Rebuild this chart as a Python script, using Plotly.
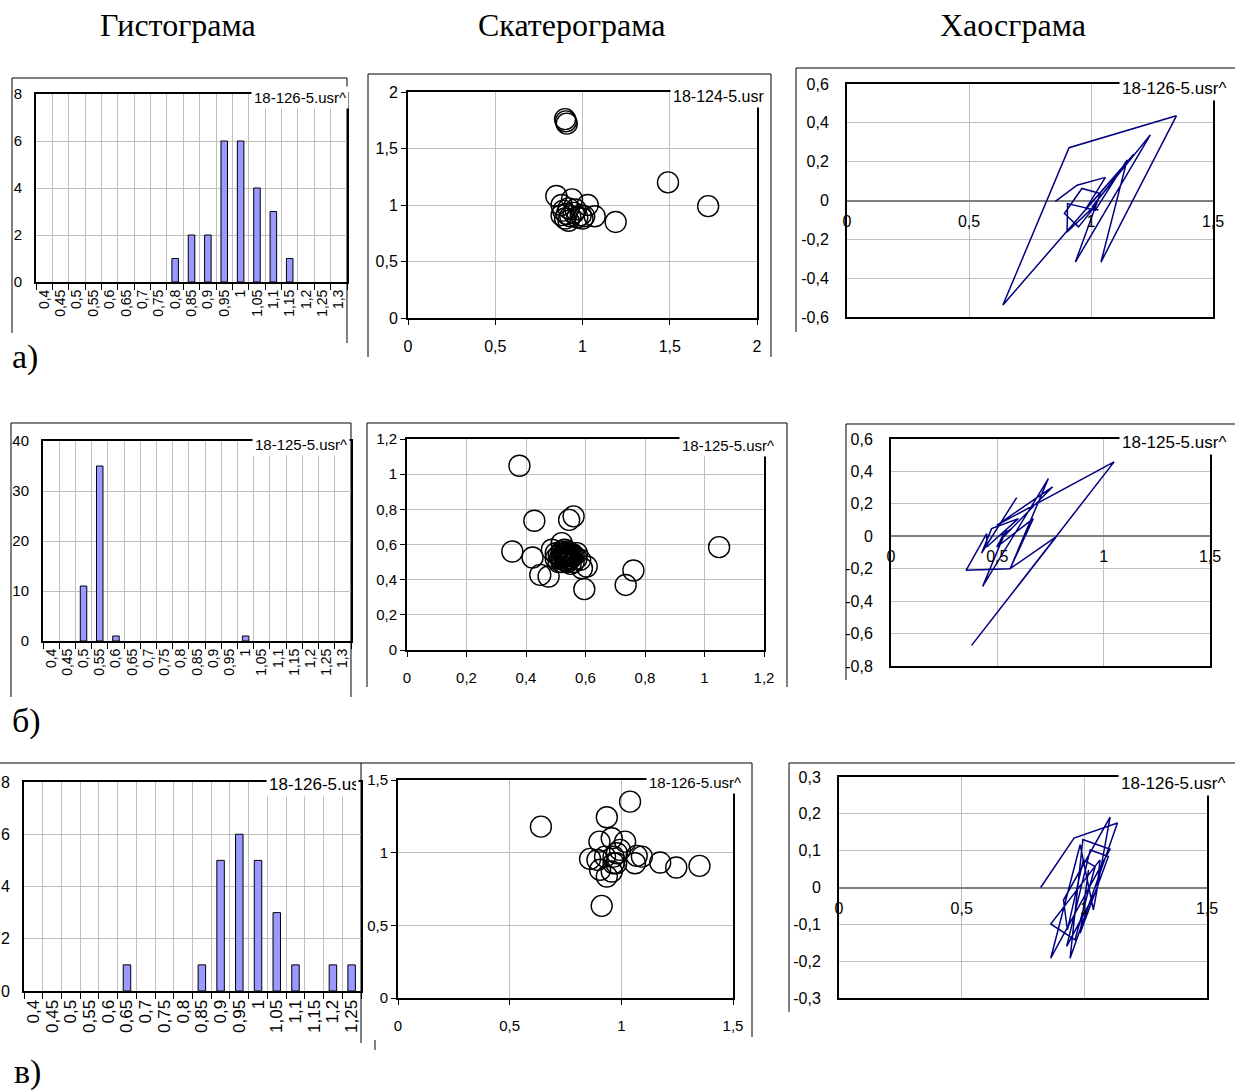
import plotly.graph_objects as go

W, H = 1235, 1090

# ---------------- DATA ----------------
CATS_HIST_AB = ["0,4", "0,45", "0,5", "0,55", "0,6", "0,65", "0,7", "0,75", "0,8", "0,85",
                "0,9", "0,95", "1", "1,05", "1,1", "1,15", "1,2", "1,25", "1,3"]
CATS_HIST_C = ["0,4", "0,45", "0,5", "0,55", "0,6", "0,65", "0,7", "0,75", "0,8", "0,85",
               "0,9", "0,95", "1", "1,05", "1,1", "1,15", "1,2", "1,25"]
HIST_A = [0, 0, 0, 0, 0, 0, 0, 0, 1, 2, 2, 6, 6, 4, 3, 1, 0, 0, 0]
HIST_B = [0, 0, 11, 35, 1, 0, 0, 0, 0, 0, 0, 0, 1, 0, 0, 0, 0, 0, 0]
HIST_C = [0, 0, 0, 0, 0, 1, 0, 0, 0, 1, 5, 6, 5, 3, 1, 0, 1, 1]

SCAT_A_X = [0.90, 0.91, 0.905, 1.49, 1.72, 1.19, 1.07, 0.85, 1.03, 0.94, 0.88, 0.89,
            0.91, 0.90, 0.92, 0.93, 0.95, 0.97, 0.99, 1.01, 0.96, 0.88, 0.92, 1.00]
SCAT_A_Y = [1.76, 1.72, 1.74, 1.20, 0.99, 0.85, 0.90, 1.08, 1.00, 1.05, 1.00, 0.95,
            0.92, 0.88, 0.86, 0.90, 0.93, 0.89, 0.91, 0.90, 0.96, 0.91, 0.97, 0.88]

SCAT_B_X = [0.378, 0.428, 0.545, 0.560, 0.354, 0.422, 0.448, 0.476, 0.596, 0.604, 0.588,
            0.735, 0.761, 1.049, 0.487, 0.520, 0.571, 0.582,
            0.50, 0.51, 0.52, 0.53, 0.54, 0.55, 0.56, 0.52, 0.53, 0.54, 0.55, 0.51, 0.53,
            0.54, 0.52, 0.56, 0.55, 0.53, 0.50, 0.57, 0.54, 0.52, 0.535, 0.545, 0.525,
            0.515, 0.555, 0.545, 0.535]
SCAT_B_Y = [1.048, 0.735, 0.740, 0.760, 0.560, 0.526, 0.427, 0.418, 0.346, 0.475, 0.465,
            0.370, 0.452, 0.585, 0.570, 0.608, 0.551, 0.513,
            0.52, 0.50, 0.53, 0.51, 0.54, 0.52, 0.50, 0.56, 0.55, 0.50, 0.55, 0.54, 0.53,
            0.52, 0.50, 0.54, 0.49, 0.57, 0.55, 0.52, 0.56, 0.52, 0.535, 0.515, 0.545,
            0.525, 0.535, 0.545, 0.505]

SCAT_C_X = [0.640, 1.039, 0.935, 0.912, 1.174, 1.246, 1.350, 1.017, 0.957, 0.902, 0.860,
            0.893, 0.905, 0.935, 0.957, 0.977, 0.980, 0.994, 0.965, 1.069, 1.061, 1.092,
            0.927, 0.965]
SCAT_C_Y = [1.179, 1.351, 1.244, 0.634, 0.932, 0.898, 0.909, 1.076, 1.099, 1.076, 0.957,
            0.950, 0.882, 0.836, 0.870, 0.927, 0.996, 1.019, 0.973, 0.978, 0.927, 0.973,
            0.973, 0.927]

CHAOS_A_X = [0.854, 0.943, 1.059, 0.977, 1.175, 1.004, 1.243, 0.936, 1.038, 0.963, 0.891,
             0.949, 1.025, 0.902, 0.904, 1.018, 1.148, 1.041, 1.350, 0.910, 0.639, 1.175,
             0.981, 1.031]
CHAOS_A_Y = [-0.005, 0.079, 0.119, -0.047, 0.238, -0.033, 0.338, -0.317, 0.036, 0.062,
             -0.067, -0.136, -0.016, -0.162, -0.016, -0.050, 0.209, -0.317, 0.436, 0.272,
             -0.538, 0.238, -0.041, -0.047]

CHAOS_B_X = [0.591, 0.426, 0.473, 0.599, 0.450, 0.450, 0.353, 0.560, 0.740, 0.431, 0.528,
             0.760, 0.497, 1.049, 0.379, 0.779, 0.560, 0.669, 0.497, 0.544, 0.513, 0.567,
             0.520]
CHAOS_B_Y = [0.239, -0.103, 0.047, 0.109, -0.066, 0.016, -0.210, -0.200, 0.356, -0.309,
             -0.004, 0.305, 0.068, 0.459, -0.673, 0.000, -0.200, 0.109, -0.066, 0.037,
             -0.025, 0.047, 0.006]

CHAOS_C_X = [0.822, 0.958, 1.135, 0.942, 0.994, 1.105, 0.863, 0.983, 1.037, 1.105, 0.915,
             0.931, 0.996, 1.044, 0.962, 0.863, 1.064, 1.051, 0.928, 1.024, 1.098, 0.983,
             1.017]
CHAOS_C_Y = [0.000, 0.134, 0.175, -0.192, 0.130, 0.104, -0.192, 0.116, -0.061, 0.191,
             -0.034, -0.115, 0.075, 0.057, -0.142, -0.099, 0.075, -0.006, -0.160, 0.102,
             0.084, -0.124, 0.048]

TITLES = ["Гистограма", "Скатерограма", "Хаосграма"]
ROW_LABELS = ["а)", "б)", "в)"]
LEGEND_A = ["18-126-5.usr^", "18-124-5.usr", "18-126-5.usr^"]
LEGEND_B = ["18-125-5.usr^", "18-125-5.usr^", "18-125-5.usr^"]
LEGEND_C = ["18-126-5.usr^", "18-126-5.usr^", "18-126-5.usr^"]

HIST_Y_A = [0, 2, 4, 6, 8]
HIST_Y_B = [0, 10, 20, 30, 40]
HIST_Y_C = [0, 2, 4, 6, 8]

SC_A_TICKS = [0, 0.5, 1, 1.5, 2]
SC_A_TEXT = ["0", "0,5", "1", "1,5", "2"]
SC_B_TICKS = [0, 0.2, 0.4, 0.6, 0.8, 1, 1.2]
SC_B_TEXT = ["0", "0,2", "0,4", "0,6", "0,8", "1", "1,2"]
SC_C_TICKS = [0, 0.5, 1, 1.5]
SC_C_TEXT = ["0", "0,5", "1", "1,5"]

CH_X_TICKS = [0, 0.5, 1, 1.5]
CH_X_TEXT = ["0", "0,5", "1", "1,5"]
CH_A_Y_TICKS = [-0.6, -0.4, -0.2, 0, 0.2, 0.4, 0.6]
CH_A_Y_TEXT = ["-0,6", "-0,4", "-0,2", "0", "0,2", "0,4", "0,6"]
CH_B_Y_TICKS = [-0.8, -0.6, -0.4, -0.2, 0, 0.2, 0.4, 0.6]
CH_B_Y_TEXT = ["-0,8", "-0,6", "-0,4", "-0,2", "0", "0,2", "0,4", "0,6"]
CH_C_Y_TICKS = [-0.3, -0.2, -0.1, 0, 0.1, 0.2, 0.3]
CH_C_Y_TEXT = ["-0,3", "-0,2", "-0,1", "0", "0,1", "0,2", "0,3"]

# ---------------- STYLE / GEOMETRY ----------------
SANS = "Liberation Sans, Arial, sans-serif"
SERIF = "Liberation Serif, Times New Roman, serif"
GRID = "#bfbfbf"
BAR = "#9999FF"
NAVY = "#000080"


def px(x):
    return x / W


def py(y):
    return 1 - y / H


def names(i):
    if i == 1:
        return "x", "y", "xaxis", "yaxis"
    return f"x{i}", f"y{i}", f"xaxis{i}", f"yaxis{i}"


fig = go.Figure()
layout = {}


def hist(i, cats, vals, xpx, ypx, yticks, fs, yfs):
    xa, ya, xk, yk = names(i)
    shown = [v if v else None for v in vals]
    fig.add_bar(x=cats, y=shown, xaxis=xa, yaxis=ya, width=0.4,
                marker=dict(color=BAR, line=dict(color="black", width=1)),
                showlegend=False, hoverinfo="x+y")
    layout[xk] = dict(domain=[px(xpx[0]), px(xpx[1])], anchor=ya, type="category",
                      categoryorder="array", categoryarray=cats,
                      range=[-0.5, len(cats) - 0.5],
                      tickmode="linear", tick0=0, dtick=1,
                      tickson="boundaries", showgrid=True, gridcolor=GRID, gridwidth=1,
                      ticks="outside", ticklen=6, tickcolor="black", tickwidth=1,
                      tickangle=-90, tickfont=dict(family=SANS, size=fs, color="black"),
                      showline=True, mirror=True, linecolor="black", linewidth=2,
                      zeroline=False, automargin=False, fixedrange=True)
    layout[yk] = dict(domain=[py(ypx[1]), py(ypx[0])], anchor=xa,
                      range=[0, yticks[-1]], tickvals=yticks,
                      ticktext=[str(v) for v in yticks],
                      showgrid=True, gridcolor=GRID, gridwidth=1, ticks="",
                      ticklabelstandoff=9,
                      tickfont=dict(family=SANS, size=yfs, color="black"),
                      showline=True, mirror=True, linecolor="black", linewidth=2,
                      zeroline=False, automargin=False, fixedrange=True)


def scat(i, xs, ys, xpx, ypx, ticks, text, fs, msize):
    xa, ya, xk, yk = names(i)
    fig.add_scatter(x=xs, y=ys, xaxis=xa, yaxis=ya, mode="markers",
                    marker=dict(symbol="circle-open", size=msize, color="black",
                                line=dict(width=1.4, color="black")),
                    showlegend=False)
    common = dict(range=[ticks[0], ticks[-1]], tickvals=ticks, ticktext=text,
                  showgrid=True, gridcolor=GRID, gridwidth=1,
                  ticks="outside", ticklen=5, tickcolor="black",
                  tickfont=dict(family=SANS, size=fs, color="black"),
                  showline=True, mirror=True, linecolor="black", linewidth=2,
                  zeroline=False, automargin=False, fixedrange=True)
    layout[xk] = dict(domain=[px(xpx[0]), px(xpx[1])], anchor=ya,
                      ticklabelstandoff=8, **common)
    layout[yk] = dict(domain=[py(ypx[1]), py(ypx[0])], anchor=xa, **common)


def chaos(i, j, xs, ys, xpx, ypx, yticks, ytext, fs):
    xa, ya, xk, yk = names(i)
    xb, _, xbk, _ = names(j)
    fig.add_scatter(x=xs, y=ys, xaxis=xa, yaxis=ya, mode="lines",
                    line=dict(color=NAVY, width=1.5), showlegend=False)
    fig.add_scatter(x=[None], y=[None], xaxis=xb, yaxis=ya, mode="lines",
                    showlegend=False, hoverinfo="skip")
    dom_x = [px(xpx[0]), px(xpx[1])]
    dom_y = [py(ypx[1]), py(ypx[0])]
    layout[xk] = dict(domain=dom_x, anchor=ya, range=[CH_X_TICKS[0], CH_X_TICKS[-1]],
                      tickvals=CH_X_TICKS, showticklabels=False, ticks="",
                      showgrid=True, gridcolor=GRID, gridwidth=1,
                      showline=True, mirror=True, linecolor="black", linewidth=2,
                      zeroline=False, automargin=False, fixedrange=True)
    layout[yk] = dict(domain=dom_y, anchor=xa, range=[yticks[0], yticks[-1]],
                      tickvals=yticks, ticktext=ytext, ticks="",
                      ticklabelstandoff=13,
                      tickfont=dict(family=SANS, size=fs, color="black"),
                      showgrid=True, gridcolor=GRID, gridwidth=1,
                      zeroline=True, zerolinecolor="#808080", zerolinewidth=2,
                      showline=True, mirror=True, linecolor="black", linewidth=2,
                      automargin=False, fixedrange=True)
    frac = (0 - yticks[0]) / (yticks[-1] - yticks[0])
    pos = dom_y[0] + frac * (dom_y[1] - dom_y[0])
    layout[xbk] = dict(overlaying=xa, anchor="free", position=pos, side="bottom",
                       domain=dom_x, range=[CH_X_TICKS[0], CH_X_TICKS[-1]],
                       tickvals=CH_X_TICKS, ticktext=CH_X_TEXT, ticks="",
                       ticklabelstandoff=9,
                       tickfont=dict(family=SANS, size=fs, color="black"),
                       showgrid=False, showline=False, zeroline=False,
                       automargin=False, fixedrange=True)


# Row a
hist(1, CATS_HIST_AB, HIST_A, (36, 347), (94, 282), HIST_Y_A, 14, 15)
scat(2, SCAT_A_X, SCAT_A_Y, (408, 757), (92, 318), SC_A_TICKS, SC_A_TEXT, 16, 21)
chaos(3, 10, CHAOS_A_X, CHAOS_A_Y, (847, 1213), (84, 317), CH_A_Y_TICKS, CH_A_Y_TEXT, 16)
# Row b
hist(4, CATS_HIST_AB, HIST_B, (43, 351), (441, 641), HIST_Y_B, 14, 15)
scat(5, SCAT_B_X, SCAT_B_Y, (407, 764), (439, 650), SC_B_TICKS, SC_B_TEXT, 15, 21)
chaos(6, 11, CHAOS_B_X, CHAOS_B_Y, (891, 1210), (439, 666), CH_B_Y_TICKS, CH_B_Y_TEXT, 16)
# Row c
hist(7, CATS_HIST_C, HIST_C, (24, 361), (782, 991), HIST_Y_C, 17, 16)
scat(8, SCAT_C_X, SCAT_C_Y, (398, 733), (780, 998), SC_C_TICKS, SC_C_TEXT, 15, 21)
chaos(9, 12, CHAOS_C_X, CHAOS_C_Y, (839, 1207), (777, 998), CH_C_Y_TICKS, CH_C_Y_TEXT, 16)

# ---------------- chart-area frames ----------------
shapes = []


def path(pts):
    d = "M " + " L ".join(f"{px(x):.5f},{py(y):.5f}" for x, y in pts)
    shapes.append(dict(type="path", path=d, xref="paper", yref="paper",
                       line=dict(color="black", width=1), layer="below"))


path([(12, 333), (12, 78), (347, 78), (347, 343)])
path([(368, 357), (368, 74), (771, 74), (771, 357)])
path([(796, 332), (796, 68), (1235, 68)])
path([(11, 697), (11, 423), (351, 423), (351, 697)])
path([(367, 687), (367, 423), (787, 423), (787, 687)])
path([(846, 680), (846, 424), (1235, 424)])
path([(0, 763), (361, 763), (361, 1043)])
path([(361, 763), (752, 763), (752, 1037)])
path([(375, 1040), (375, 1050)])
path([(789, 1012), (789, 763), (1235, 763)])

# ---------------- annotations ----------------
ann = []
for txt, cx in zip(TITLES, [178, 572, 1013]):
    ann.append(dict(text=txt, x=px(cx), y=py(25), xref="paper", yref="paper",
                    xanchor="center", yanchor="middle", showarrow=False,
                    font=dict(family=SERIF, size=32, color="black")))
for txt, (lx, cy) in zip(ROW_LABELS, [(10, 357), (10, 721), (12, 1072)]):
    ann.append(dict(text=txt, x=px(lx), y=py(cy), xref="paper", yref="paper",
                    xanchor="left", yanchor="middle", showarrow=False,
                    font=dict(family=SERIF, size=34, color="black")))


def legend(txt, right, cy, fs, left=None, width=None):
    d = dict(text=txt, xref="paper", yref="paper", yanchor="middle", y=py(cy),
             showarrow=False, bgcolor="white", borderpad=2,
             font=dict(family=SANS, size=fs, color="black"))
    if left is not None:
        d.update(x=px(left), xanchor="left", width=width, align="left")
    else:
        d.update(x=px(right), xanchor="right")
    ann.append(d)


legend(LEGEND_A[0], 349, 98, 15)
legend(LEGEND_A[1], 767, 97, 16)
legend(LEGEND_A[2], 1229, 89, 17)
legend(LEGEND_B[0], 350, 444, 15)
legend(LEGEND_B[1], 777, 445, 15)
legend(LEGEND_B[2], 1229, 443, 17)
legend(LEGEND_C[0], None, 784, 17, left=266, width=87)
legend(LEGEND_C[1], 744, 782, 15)
legend(LEGEND_C[2], 1228, 783, 17)

fig.update_layout(width=W, height=H, margin=dict(l=0, r=0, t=0, b=0),
                  paper_bgcolor="white", plot_bgcolor="white",
                  separators=", ", showlegend=False,
                  shapes=shapes, annotations=ann, **layout)

fig.write_html("out.html",
               config={"displayModeBar": False},
               post_script="document.body.style.margin='0';"
                           "document.body.style.overflow='hidden';")
